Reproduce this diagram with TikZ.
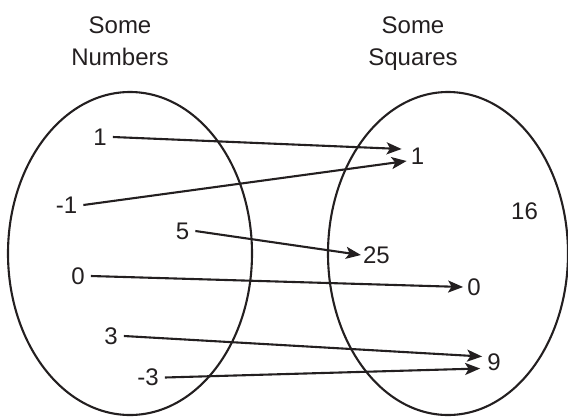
\documentclass[tikz,border=0pt]{standalone}
\usepackage{fontspec}
\setmainfont{Liberation Sans}
\usetikzlibrary{arrows.meta}
\definecolor{ink}{RGB}{35,31,32}
\begin{document}
\begin{tikzpicture}[x=1pt,y=1pt,
  every node/.style={font=\fontsize{24}{32}\selectfont, text=ink},
  src/.style={inner xsep=6pt, inner ysep=0pt},
  dst/.style={inner sep=0pt},
  title/.style={align=center, inner sep=0pt, anchor=north},
  setline/.style={line width=2.1pt, draw=ink},
  maparrow/.style={line width=2.1pt, draw=ink, -{Stealth[length=15pt,width=12pt,inset=3.5pt]}}]
\useasboundingbox (0,0) rectangle (568,-416);
% titles
\node[title] (tl) at (120,-17) {Some\\Numbers};
\node[title] (tr) at (413,-17) {Some\\Squares};
% sets
\draw[setline] (130,-253.5) ellipse [x radius=122, y radius=161.5];
\draw[setline] (448,-253.5) ellipse [x radius=120, y radius=161.5];
% left numbers
\node[src] (n1) at (100,-137) {1};
\node[src] (m1) at (66.5,-205) {-1};
\node[src] (n5) at (182.5,-231) {5};
\node[src] (n0) at (78,-276) {0};
\node[src] (n3) at (111,-336) {3};
\node[src] (m3) at (148,-377.5) {-3};
% right numbers
\node[dst] (s1) at (417.5,-156) {1};
\node[dst] (s16) at (524.5,-211) {16};
\node[dst] (s25) at (376.5,-255) {25};
\node[dst] (s0) at (474,-287) {0};
\node[dst] (s9) at (494,-362.5) {9};
% arrows
\draw[maparrow] (n1.east) -- ([shift={(-9pt,7pt)}]s1.west);
\draw[maparrow] (m1.east) -- ([shift={(-4pt,-5pt)}]s1.west);
\draw[maparrow] (n5.east) -- ([shift={(-2pt,0pt)}]s25.west);
\draw[maparrow] (n0.east) -- ([shift={(-4pt,0pt)}]s0.west);
\draw[maparrow] (n3.east) -- ([shift={(-5pt,6pt)}]s9.west);
\draw[maparrow] (m3.east) -- ([shift={(-7pt,-6pt)}]s9.west);
\end{tikzpicture}
\end{document}
